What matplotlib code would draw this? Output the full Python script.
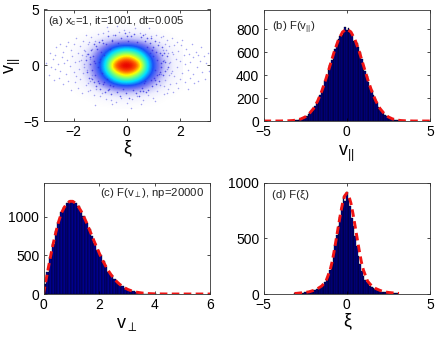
#!/usr/bin/env python3
"""Four panel particle distribution figure: scatter of (xi, v_par) and three histograms."""

import numpy as np
import matplotlib
matplotlib.use("Agg")
import matplotlib.pyplot as plt
from matplotlib.colors import LinearSegmentedColormap

plt.rcParams["font.family"] = ["Liberation Sans", "DejaVu Sans"]
plt.rcParams["mathtext.fontset"] = "custom"
plt.rcParams["mathtext.rm"] = "Liberation Sans"
plt.rcParams["mathtext.it"] = "Liberation Sans"
plt.rcParams["mathtext.fallback"] = "stixsans"

# panel (a): density levels, 0 = empty, 9 = densest
dens_xi = [-2, -1.75, -1.5, -1.25, -1, -.75, -.5, -.25, 0, .25, .5, .75, 1, 1.25, 1.5, 1.75, 2]
dens_v = [-3.6, -3, -2.4, -1.8, -1.2, -.6, 0, .6, 1.2, 1.8, 2.4, 3, 3.6]
dens_half = [
    [0, 0, 0, 0, 0, 0, 0, .1, .1],
    [0, 0, 0, .1, .3, .5, .7, .8, .8],
    [0, .1, .3, .7, 1.1, 1.5, 1.8, 2, 2.1],
    [.1, .4, .9, 1.5, 2.2, 2.9, 3.5, 3.9, 4],
    [.3, .7, 1.3, 2.2, 3.1, 4, 5, 5.6, 5.9],
    [.4, .9, 1.7, 2.7, 3.8, 5, 6.3, 7.3, 7.8],
    [.5, 1, 1.9, 2.9, 4, 5.4, 7.6, 8.7, 9],
]

# sparse outer particles of panel (a)
sparse_xi = [-3.05, -2.95, -2.9, -2.85, -2.8, -2.75, -2.7, -2.7, -2.65, -2.6, -2.55, -2.5, -2.5, -2.45, -2.4,
             -2.4, -2.35, -2.3, -2.3, -2.25, -2.2, -2.2, -2.15, -2.1, -2.1, -2.05, -2, -2, -1.95, -1.95,
             -1.9, -1.9, -1.85, -1.85, -1.8, -1.8, -1.75, -1.75, -1.7, -1.7, -1.65, -1.65, -1.6, -1.6, -1.55,
             -1.55, -1.5, -1.5, -1.45, -1.45, -1.4, -1.4, -1.35, -1.3, -1.3, -1.25, -1.2, -1.15, -1.1, -1,
             -.9, -.8, -.7, -.6, -.5, -.4, -.3, -.2, -.1, 0, .1, .2, .3, .4, .5,
             .6, .7, .8, .9, 1, 1.1, 1.15, 1.2, 1.25, 1.3, 1.3, 1.35, 1.4, 1.4, 1.45,
             1.45, 1.5, 1.5, 1.55, 1.55, 1.6, 1.6, 1.65, 1.65, 1.7, 1.7, 1.75, 1.75, 1.8, 1.8,
             1.85, 1.85, 1.9, 1.9, 1.95, 1.95, 2, 2, 2.05, 2.1, 2.1, 2.15, 2.2, 2.2, 2.25,
             2.3, 2.3, 2.35, 2.4, 2.4, 2.45, 2.5, 2.5, 2.55, 2.6, 2.65, 2.7, 2.7, 2.75, 2.8,
             2.85, 2.9, 2.95, 3, 3.05, 3.1, -1.2, -.95, -.75, -.35, .15, .55, .85, 1.05, -.55,
             -1.72, -1.48, -1.58, -1.38, -1.62, -1.44, -1.52, 1.42, 1.58, 1.48, 1.66, 1.36, 1.52, 1.72, -1.34]
sparse_v = [.2, -.9, 1.1, -.2, .6, -1.3, .9, -.3, 1.6, .1, -1.1, 1.9, -.5, .7, -1.7,
            1.2, .2, -.8, 1.7, .5, -1.4, 2.1, -.1, 1.4, -2.2, .8, -.6, 1.9, -1.5, .3,
            2.4, -1, 1.1, -2, .4, -.3, 1.7, -1.2, .9, -2.5, 2.2, -.7, .1, 1.4, -1.8,
            2.7, -.4, 1, -2.3, 1.9, .6, -1.4, 2.5, -.9, 1.5, -2.7, 2.2, -2.1, 2.8, -2.8,
            2.9, -3, 3.1, -3.1, 2.7, -3.3, 3, -2.9, 3.2, -3.4, 3, -3, 3.3, -2.8, 2.9,
            -3.1, 2.8, -2.7, 2.6, -2.9, 2.7, -2.3, 2.1, -1.8, 2.5, -.8, 1.4, -2.6, .5, 1.9,
            -1.3, 2.3, -.3, 1.1, -2.1, 1.7, -.9, .3, -1.7, 2.4, -.5, 1, -2.4, 1.8, -1,
            .6, -1.6, 2.1, -.2, 1.3, -2, .4, -1.2, 1.8, -.7, 2.3, .9, -1.5, .1, 1.5,
            -.4, -2.1, 1, .3, -1.1, 1.9, -.8, .7, -1.6, 1.2, -.2, .9, -1.4, .4, 1.6,
            -.6, .8, -1.2, .2, 1.1, -.5, -3.6, -2.5, 3.4, 3.5, -3.8, -3.5, 3.3, -3.2, -3.5,
            .5, -1.6, 1.3, -2.2, -.2, 2.1, .8, -1.9, .2, 1.4, -.7, 2.6, -2.5, 1.2, -1.1]

# denser ring of particles around the core of panel (a)
ring_xi = [-1.55, -1.5, -1.46, -1.42, -1.38, -1.35, -1.32, -1.28, -1.25, -1.22, -1.2, -1.18, -1.15, -1.12, -1.1,
           -1.08, -1.05, -1.02, -1, -.98, -.95, -.92, -.9, -.86, -.82, -.78, -.74, -.7, -.66, -.62,
           -.58, -.54, -.5, -.44, -.38, -.32, -.26, -.2, -.14, -.08, -.02, .04, .1, .16, .22,
           .28, .34, .4, .46, .52, .58, .62, .66, .7, .74, .78, .82, .86, .9, .92,
           .95, .98, 1, 1.02, 1.05, 1.08, 1.1, 1.12, 1.15, 1.18, 1.2, 1.22, 1.25, 1.28, 1.32,
           1.35, 1.38, 1.42, 1.46, 1.5, 1.55, -1.3, -1.16, -1.04, -.88, -.72, -.56, .6, .76, .94,
           1.06, 1.24, 1.34, -1.4, -1.24, -1.06, -.84, -.64, .5, .68, .88, 1.14, 1.3, 1.44, 0]
ring_v = [.5, -.6, 1, -1.1, .1, 1.4, -.4, .8, -1.5, 1.9, -.9, .2, -1.9, 1.5, -.2,
          -1.4, 2.1, .6, -2.1, 1.2, -.7, 2.3, -1.7, .9, -2.4, 1.9, -1.2, 2.6, -2.1, 1.5,
          -2.6, 2.2, -1.9, 2.7, -2.4, 2, -2.8, 2.4, -2.1, 2.9, -2.5, 2.2, -2.9, 2.6, -2.2,
          2.8, -2.5, 2.1, -2.8, 2.5, -2, 2.7, -1.6, 2.2, -2.4, 1.6, -2.2, 2, -1.3, 2.4,
          -1.9, .8, 1.6, -1.1, 2.2, -.4, 1.2, -1.7, .5, 1.8, -.8, -1.4, 1.1, -.2, 1.6,
          -.9, .4, 1.1, -.5, .8, -.2, -1.2, 1.7, -1.6, 2, -2.2, 2.3, -2.3, 2.4, 1.4,
          -1.3, -.6, .9, .7, .4, .3, -1.5, -1.8, -2.3, -1.4, 1.1, -.9, .2, .3, 2.6]

# panel (b): parallel velocity histogram and fitted curve
vpar_centers = [round(-3.5 + .1 * i, 1) for i in range(71)]
vpar_counts = [2, 3, 4, 5, 6, 9, 13, 16, 22, 28, 37, 46, 58, 72, 90, 106, 130, 160, 190, 225,
               262, 305, 345, 385, 440, 490, 530, 585, 625, 660, 710, 740, 745, 770, 815, 790, 805, 770, 755, 700,
               695, 680, 640, 600, 540, 490, 435, 395, 340, 300, 270, 225, 190, 155, 125, 105, 85, 68, 55, 45,
               35, 28, 20, 16, 11, 8, 6, 4, 3, 2, 1]
vpar_fit_x = [-5, -4.25, -4, -3.75, -3.5, -3.25, -3, -2.75, -2.5, -2.25, -2, -1.75, -1.5, -1.25, -1, -.75, -.5, -.25, 0,
              .25, .5, .75, 1, 1.25, 1.5, 1.75, 2, 2.25, 2.5, 2.75, 3, 3.25, 3.5, 3.75, 4, 4.25, 5]
vpar_fit_y = [0, 0, 0, 1, 2, 4, 9, 18, 35, 64, 108, 173, 260, 366, 485, 604, 706, 775, 800,
              775, 706, 604, 485, 366, 260, 173, 108, 64, 35, 18, 9, 4, 2, 1, 0, 0, 0]

# panel (c): perpendicular velocity histogram and fitted curve
vperp_centers = [round(.05 + .1 * i, 2) for i in range(41)]
vperp_counts = [130, 290, 480, 645, 810, 935, 1055, 1125, 1170, 1195, 1205, 1170, 1140, 1070, 1010, 915, 840, 745, 665, 570,
                500, 420, 355, 290, 245, 190, 160, 120, 100, 72, 58, 42, 34, 22, 14, 9, 6, 4, 3, 2, 1]
vperp_fit_x = [0, .05, .15, .25, .35, .45, .55, .65, .75, .85, .95, 1.05, 1.15, 1.25, 1.35, 1.45, 1.55, 1.65, 1.75, 1.85,
               1.95, 2.05, 2.15, 2.25, 2.35, 2.45, 2.55, 2.65, 2.75, 2.85, 2.95, 3.05, 3.15, 3.25, 3.35, 3.45, 3.55, 3.75,
               4, 4.5, 5, 6]
vperp_fit_y = [0, 99, 293, 478, 650, 805, 940, 1050, 1120, 1172, 1197, 1197, 1174, 1132, 1074, 1002, 922, 836, 748, 660,
               576, 495, 421, 354, 294, 241, 195, 156, 124, 97, 75, 57, 44, 33, 24, 18, 13, 6,
               2, 0, 0, 0]

# panel (d): xi histogram and fitted curve
xi_centers = [round(-3.1 + .1 * i, 1) for i in range(63)]
xi_counts = [5, 6, 7, 9, 11, 12, 15, 17, 18, 23, 27, 32, 36, 44, 52, 60, 73, 85, 105, 130,
             165, 215, 270, 345, 435, 525, 610, 690, 780, 875, 835, 915, 850, 790, 680, 610, 520, 430, 345, 270,
             210, 160, 128, 105, 88, 72, 60, 50, 44, 37, 31, 26, 22, 18, 16, 14, 12, 10, 9, 7, 6, 5, 4]
xi_fit_x = [-3.14, -3, -2.75, -2.5, -2.25, -2, -1.75, -1.5, -1.25, -1, -.875, -.75, -.625, -.5, -.375, -.25, -.125, 0,
            .125, .25, .375, .5, .625, .75, .875, 1, 1.25, 1.5, 1.75, 2, 2.25, 2.5, 2.75, 3, 3.14]
xi_fit_y = [5, 6, 10, 14, 20, 32, 48, 72, 115, 215, 290, 390, 500, 610, 720, 815, 880, 905,
            880, 815, 720, 610, 500, 390, 290, 215, 115, 72, 48, 32, 20, 14, 10, 6, 5]

W, H = 436, 337
BAR = "#00008c"
FIT = "#f01414"
NOTE = 8.2


def make_axes(fig, left, right, top, bottom):
    ax = fig.add_axes([left / W, 1 - bottom / H, (right - left) / W, (bottom - top) / H])
    ax.tick_params(direction="in", top=True, right=True, length=2, width=.5, labelsize=10, pad=3)
    for s in ax.spines.values():
        s.set_linewidth(.6)
        s.set_color("#333333")
    return ax


def plot_hist(ax, centers, counts, fit_x, fit_y, width=.1):
    ax.bar(centers, counts, width=width, color=BAR, edgecolor="black", linewidth=.25)
    ax.plot(fit_x, fit_y, color=FIT, lw=2.1, dashes=(2.6, 1.5))


fig = plt.figure(figsize=(W / 100, H / 100), dpi=100)

# (a) scatter
ax = make_axes(fig, 43.5, 210, 9.5, 121)
dens = np.array(dens_half + dens_half[-2::-1], dtype=float)
dens = np.hstack([dens, dens[:, -2::-1]])
cmap = LinearSegmentedColormap.from_list("dens", [
    (0, "#ffffff"), (.11, "#f0f0fe"), (.22, "#c8c8fa"), (.33, "#7878f2"), (.44, "#1a50f8"), (.55, "#00e0ff"),
    (.66, "#70ff80"), (.76, "#ffff00"), (.86, "#ff6000"), (.95, "#e80000"), (1, "#a00000")])
ax.imshow(dens, extent=[dens_xi[0] - .125, dens_xi[-1] + .125, dens_v[0] - .3, dens_v[-1] + .3],
          origin="lower", cmap=cmap, vmin=0, vmax=9, aspect="auto", interpolation="bicubic")
ax.scatter(sparse_xi, sparse_v, s=1.2, color="#6a6ae8", alpha=.6, linewidths=0)
ax.scatter(ring_xi, ring_v, s=1.4, color="#3030e0", alpha=.75, linewidths=0)
ax.set_xlim(-3.14, 3.14)
ax.set_ylim(-5, 5)
ax.set_xticks([-2, 0, 2])
ax.set_yticks([-5, 0, 5])
ax.set_xlabel("ξ", fontsize=13, labelpad=0)
ax.set_ylabel(r"$\mathrm{v}_{||}$", fontsize=13, labelpad=0)
ax.text(-2.96, 3.95, r"(a) x$_{\mathrm{c}}$=1, it=1001, dt=0.005", fontsize=NOTE, color="#222222", va="center")

# (b) parallel velocity
ax = make_axes(fig, 263.5, 430, 9.5, 121)
plot_hist(ax, vpar_centers, vpar_counts, vpar_fit_x, vpar_fit_y)
ax.set_xlim(-5, 5)
ax.set_ylim(0, 970)
ax.set_xticks([-5, 0, 5])
ax.set_yticks([0, 200, 400, 600, 800])
ax.set_xlabel(r"$\mathrm{v}_{||}$", fontsize=13, labelpad=3)
ax.text(-4.5, 815, r"(b) F(v$_{||}$)", fontsize=NOTE, color="#222222", va="center")

# (c) perpendicular velocity
ax = make_axes(fig, 43.5, 210, 182.5, 294)
plot_hist(ax, vperp_centers, vperp_counts, vperp_fit_x, vperp_fit_y)
ax.set_xlim(0, 6)
ax.set_ylim(0, 1440)
ax.set_xticks([0, 2, 4, 6])
ax.set_yticks([0, 500, 1000])
ax.set_xlabel(r"$\mathrm{v}_{\perp}$", fontsize=13, labelpad=3)
ax.text(2.02, 1310, r"(c) F(v$_{\perp}$), np=20000", fontsize=NOTE, color="#222222", va="center")

# (d) xi
ax = make_axes(fig, 263.5, 430, 182.5, 294)
plot_hist(ax, xi_centers, xi_counts, xi_fit_x, xi_fit_y)
ax.set_xlim(-5, 5)
ax.set_ylim(0, 1000)
ax.set_xticks([-5, 0, 5])
ax.set_yticks([0, 500, 1000])
ax.set_xlabel("ξ", fontsize=13, labelpad=0)
ax.text(-4.5, 890, "(d) F(ξ)", fontsize=NOTE, color="#222222", va="center")

fig.savefig("out.png", dpi=100)
